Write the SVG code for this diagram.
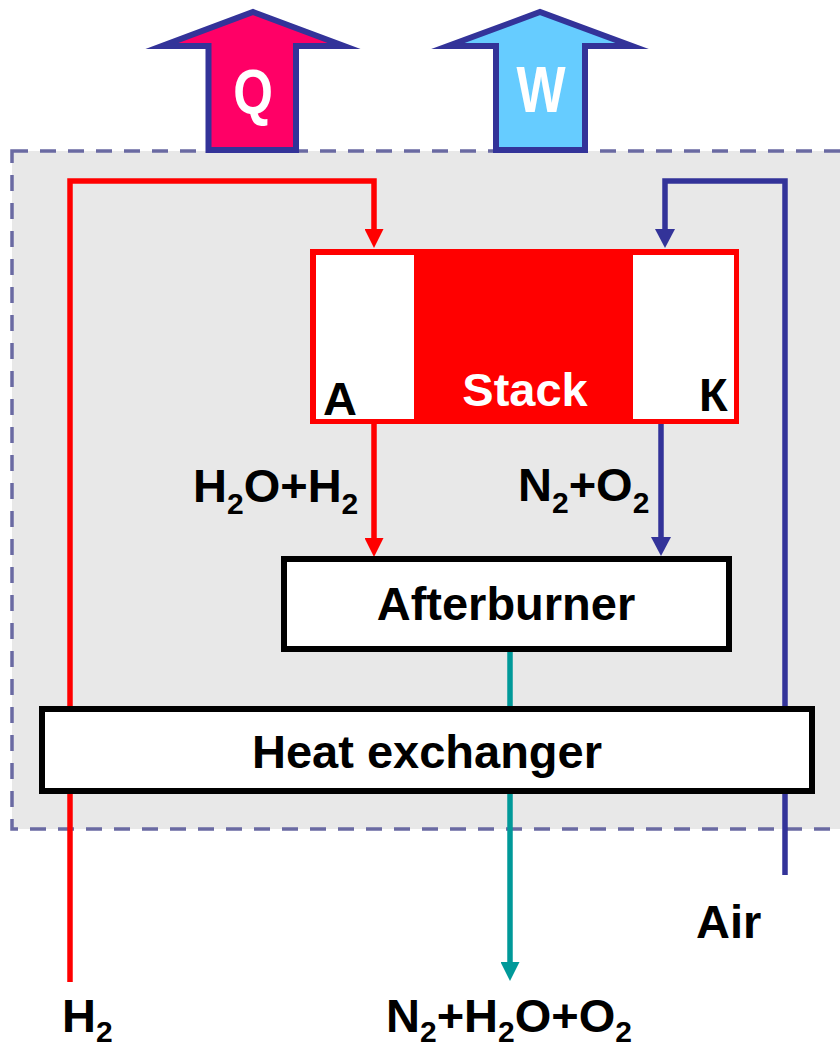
<svg xmlns="http://www.w3.org/2000/svg" width="840" height="1046" viewBox="0 0 840 1046">
<defs>
<style>
.lbl{font-family:"Liberation Sans",Arial,sans-serif;font-weight:bold;font-size:47px;fill:#000}
.sub{font-size:30px}
.wire{fill:none;stroke-width:5.5;stroke-linejoin:miter}
.big{stroke:#333399;stroke-width:6;stroke-miterlimit:20;stroke-linejoin:miter}
.box{fill:#fff;stroke:#000;stroke-width:6}
</style>
<marker id="ahR" viewBox="0 0 19 19" refX="0" refY="9.5" markerWidth="19" markerHeight="19" markerUnits="userSpaceOnUse" orient="auto"><path d="M0,0 L19,9.5 L0,19 z" fill="#ff0000"/></marker>
<marker id="ahB" viewBox="0 0 19 20" refX="0" refY="10" markerWidth="19" markerHeight="20" markerUnits="userSpaceOnUse" orient="auto"><path d="M0,0 L19,10 L0,20 z" fill="#333399"/></marker>
<marker id="ahT" viewBox="0 0 19 19" refX="0" refY="9.5" markerWidth="19" markerHeight="19" markerUnits="userSpaceOnUse" orient="auto"><path d="M0,0 L19,9.5 L0,19 z" fill="#009999"/></marker>
</defs>
<rect width="840" height="1046" fill="#fff"/>
<g id="system-boundary">
<rect x="12" y="151" width="840" height="678" fill="#e8e8e8" stroke="#6a6aa2" stroke-width="3.5" stroke-dasharray="16 12"/>
</g>
<g id="heat-Q">
<polygon class="big" fill="#ff0066" points="208.5,150 208.5,46 162,46 253,12 344,46 296,46 296,150"/>
<text transform="translate(253,113) scale(1,1.25)" text-anchor="middle" style="font-family:'Liberation Sans',Arial,sans-serif;font-weight:bold;font-size:51px;fill:#fff">Q</text>
</g>
<g id="work-W">
<polygon class="big" fill="#66ccff" points="496,150 496,46 448,46 540,12 632,46 585,46 585,150"/>
<text transform="translate(541,112) scale(1,1.25)" text-anchor="middle" style="font-family:'Liberation Sans',Arial,sans-serif;font-weight:bold;font-size:52px;fill:#fff">W</text>
</g>
<g id="connectors">
<path class="wire" stroke="#ff0000" d="M70,982 V181 H374 V229" marker-end="url(#ahR)"/>
<path class="wire" stroke="#333399" d="M785,875 V181 H665 V229" marker-end="url(#ahB)"/>
<path class="wire" stroke="#ff0000" d="M374,424 V538" marker-end="url(#ahR)"/>
<path class="wire" stroke="#333399" d="M661,424 V537" marker-end="url(#ahB)"/>
<path class="wire" stroke="#009999" d="M510,652 V962" marker-end="url(#ahT)"/>
</g>
<g id="stack">
<rect x="310" y="249" width="429" height="175" fill="#ff0000"/>
<rect x="316" y="255" width="98" height="164" fill="#fff"/>
<rect x="633" y="255" width="101" height="164" fill="#fff"/>
<text class="lbl" x="323" y="415">A</text>
<text class="lbl" x="525" y="406" text-anchor="middle" style="fill:#fff">Stack</text>
<text class="lbl" x="699" y="411">К</text>
</g>
<g id="afterburner">
<rect class="box" x="284" y="559" width="445" height="90"/>
<text class="lbl" x="506" y="620" text-anchor="middle">Afterburner</text>
</g>
<g id="heat-exchanger">
<rect class="box" x="42" y="709" width="770" height="82"/>
<text class="lbl" x="427" y="768" text-anchor="middle">Heat exchanger</text>
</g>
<g id="labels">
<text class="lbl" x="193" y="502">H<tspan class="sub" dy="12">2</tspan><tspan dy="-12">O+H</tspan><tspan class="sub" dy="12">2</tspan></text>
<text class="lbl" x="518" y="501">N<tspan class="sub" dy="12">2</tspan><tspan dy="-12">+O</tspan><tspan class="sub" dy="12">2</tspan></text>
<text class="lbl" x="62" y="1032">H<tspan class="sub" dy="10">2</tspan></text>
<text class="lbl" x="386" y="1032">N<tspan class="sub" dy="10">2</tspan><tspan dy="-10">+H</tspan><tspan class="sub" dy="10">2</tspan><tspan dy="-10">O+O</tspan><tspan class="sub" dy="10">2</tspan></text>
<text class="lbl" x="696" y="938">Air</text>
</g>
</svg>
